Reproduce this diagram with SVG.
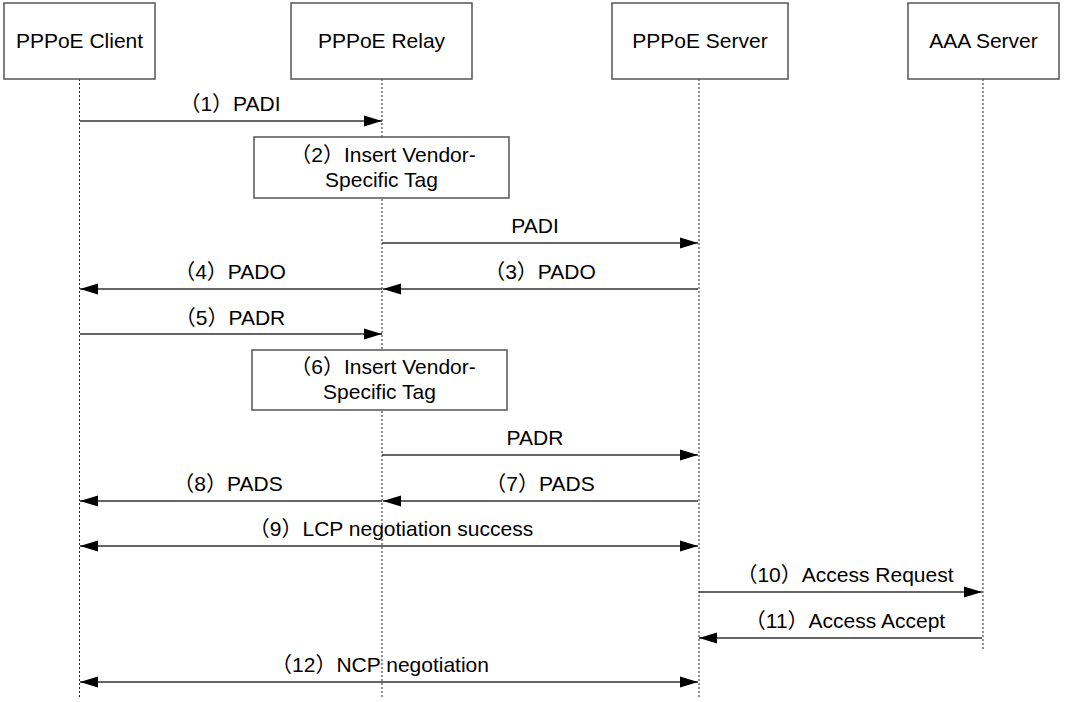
<svg xmlns="http://www.w3.org/2000/svg" width="1066" height="702" viewBox="0 0 1066 702">
<style>
text{font-family:"Liberation Sans","Noto Sans CJK SC",Arial,sans-serif;font-size:21px;fill:#000;text-anchor:middle}
.box{fill:#fff;stroke:#555;stroke-width:1.5}
.life{stroke:#222;stroke-width:1;stroke-dasharray:2,2;fill:none}
.msg{stroke:#333;stroke-width:1.4;fill:none;marker-end:url(#ah)}
.both{marker-start:url(#ah)}
</style>
<defs>
<marker id="ah" markerUnits="userSpaceOnUse" markerWidth="18" markerHeight="12" refX="18" refY="6" orient="auto-start-reverse" viewBox="0 0 18 12">
<path d="M0,0.5 L18,6 L0,11.5 z" fill="#000"/>
</marker>
</defs>
<rect width="1066" height="702" fill="#fff"/>
<g id="lifelines">
<line class="life" x1="79.5" y1="79" x2="79.5" y2="698"/>
<line class="life" x1="382" y1="79" x2="382" y2="698"/>
<line class="life" x1="699" y1="79" x2="699" y2="698"/>
<line class="life" x1="983" y1="79" x2="983" y2="651"/>
</g>
<g id="client"><rect class="box" x="4" y="3" width="151" height="76"/><text x="79.5" y="48">PPPoE Client</text></g>
<g id="relay"><rect class="box" x="291" y="3" width="181" height="76"/><text x="381.5" y="48">PPPoE Relay</text></g>
<g id="server"><rect class="box" x="612" y="3" width="176" height="76"/><text x="700" y="48">PPPoE Server</text></g>
<g id="aaa"><rect class="box" x="908" y="3" width="151" height="76"/><text x="983.5" y="48">AAA Server</text></g>
<g id="step2"><rect class="box" x="254" y="137" width="255" height="61"/><text x="383" y="162">（2）Insert Vendor-</text><text x="381.5" y="187">Specific Tag</text></g>
<g id="step6"><rect class="box" x="252" y="350" width="255" height="60"/><text x="383" y="374">（6）Insert Vendor-</text><text x="379.5" y="399">Specific Tag</text></g>
<g id="connectors">
<line class="msg" x1="80" y1="121" x2="382" y2="121"/>
<line class="msg" x1="382" y1="243" x2="698" y2="243"/>
<line class="msg" x1="382" y1="289" x2="80" y2="289"/>
<line class="msg" x1="698" y1="289" x2="383" y2="289"/>
<line class="msg" x1="80" y1="334" x2="382" y2="334"/>
<line class="msg" x1="382" y1="455" x2="698" y2="455"/>
<line class="msg" x1="382" y1="501" x2="80" y2="501"/>
<line class="msg" x1="698" y1="501" x2="383" y2="501"/>
<line class="msg both" x1="80" y1="546" x2="698" y2="546"/>
<line class="msg" x1="699" y1="592" x2="982" y2="592"/>
<line class="msg" x1="982" y1="638" x2="699" y2="638"/>
<line class="msg both" x1="80" y1="682" x2="698" y2="682"/>
</g>
<g id="labels">
<text x="230" y="111">（1）PADI</text>
<text x="535" y="233">PADI</text>
<text x="230" y="279">（4）PADO</text>
<text x="540" y="279">（3）PADO</text>
<text x="230" y="325">（5）PADR</text>
<text x="535" y="445">PADR</text>
<text x="228" y="491">（8）PADS</text>
<text x="540" y="491">（7）PADS</text>
<text x="391" y="536">（9）LCP negotiation success</text>
<text x="845" y="582">（10）Access Request</text>
<text x="845" y="628">（11）Access Accept</text>
<text x="380" y="672">（12）NCP negotiation</text>
</g>
</svg>
